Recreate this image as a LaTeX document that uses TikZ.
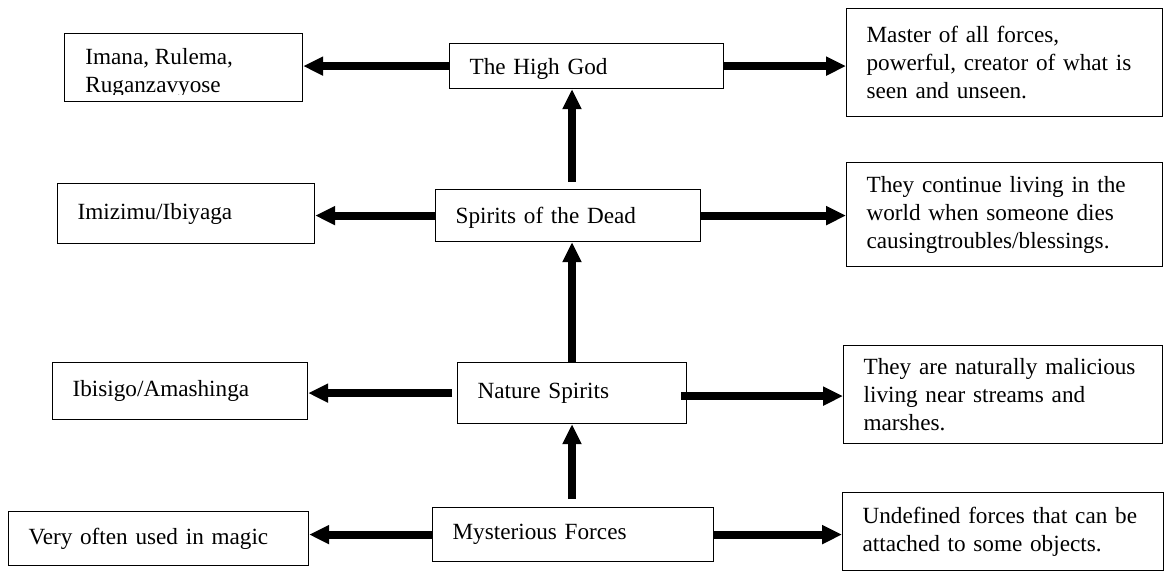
\documentclass[tikz,border=0pt]{standalone}
\usepackage{fontspec}
\setmainfont{Liberation Serif}
\usetikzlibrary{arrows.meta}

\begin{document}
\begin{tikzpicture}[
                x = 0.5pt, y = -0.5pt,
                every node/.style = {font = \fontsize{11.6pt}{14pt}\selectfont},
                box/.style = {draw, line width = 0.6pt, anchor = north west, align = left, inner xsep = 10pt, inner ysep = 0pt},
                arr/.style = {draw, line width = 4pt, -{Triangle[length = 10pt, width = 9pt]}},
            ]
            \useasboundingbox (0,0) rectangle (1165,572);

            \coordinate (axis) at (572,0);

            \node (imana) [draw, line width = 0.6pt, anchor = north west, inner sep = 0pt, minimum width = 119pt, minimum height = 34pt] at (64,33) {};
            \begin{scope}
                \clip (64,33) rectangle (302,95);
                \node (imanatext) [anchor = north west, align = left, inner sep = 0pt] at (85,48) {Imana, Rulema,\\Ruganzavyose};
            \end{scope}
            \node (hg) [box, text width = 117pt, minimum height = 22.5pt, text depth = 0pt] at (449,43) {The High God};
            \node (master) [box, text width = 138pt, minimum height = 54pt] at (846,8) {\mbox{Master of all forces,}\\\mbox{powerful, creator of what is}\\\mbox{seen and unseen.}};

            \node (imiz) [box, text width = 108.5pt, minimum height = 30pt] at (57,183) {Imizimu/Ibiyaga};
            \node (sd) [box, text width = 112.5pt, minimum height = 26pt, text depth = 0pt] at (435,189) {Spirits of the Dead};
            \node (they) [box, text width = 138pt, minimum height = 52pt] at (846,162) {\mbox{They continue living in the}\\\mbox{world when someone dies}\\\mbox{causingtroubles/blessings.}};

            \node (ibis) [box, text width = 107.5pt, minimum height = 28.5pt] at (52,362) {Ibisigo/Amashinga};
            \node (ns) [box, text width = 94.5pt, minimum height = 30.5pt] at (457,362) {Nature Spirits};
            \node (natur) [box, text width = 139.5pt, minimum height = 49pt] at (843,345) {\mbox{They are naturally malicious}\\\mbox{living near streams and}\\\mbox{marshes.}};

            \node (vo) [box, text width = 130pt, minimum height = 27pt] at (8,511) {Very often used in magic};
            \node (mf) [box, text width = 120.5pt, minimum height = 27pt] at (432,507) {Mysterious Forces};
            \node (undef) [box, text width = 140.5pt, minimum height = 39pt] at (842,492) {\mbox{Undefined forces that can be}\\\mbox{attached to some objects.}};

            \path[arr] (hg.west) -- (hg.west -| imana.east);
            \path[arr] (hg.east) -- (hg.east -| master.west);
            \path[arr, shorten <= 3.5pt] (sd.north -| axis) -- (hg.south -| axis);

            \path[arr] (sd.west) -- (sd.west -| imiz.east);
            \path[arr] (sd.east) -- (sd.east -| they.west);
            \path[arr] (ns.north -| axis) -- (sd.south -| axis);

            \path[arr, shorten <= 2.5pt] (ns.west) -- (ns.west -| ibis.east);
            \path[arr, shorten <= -3pt] ([yshift = -1.5pt]ns.east) -- ([yshift = -1.5pt]ns.east -| natur.west);
            \path[arr, shorten <= 4pt] (mf.north -| axis) -- (ns.south -| axis);

            \path[arr] (mf.west) -- (mf.west -| vo.east);
            \path[arr] (mf.east) -- (mf.east -| undef.west);
        \end{tikzpicture}
\end{document}
